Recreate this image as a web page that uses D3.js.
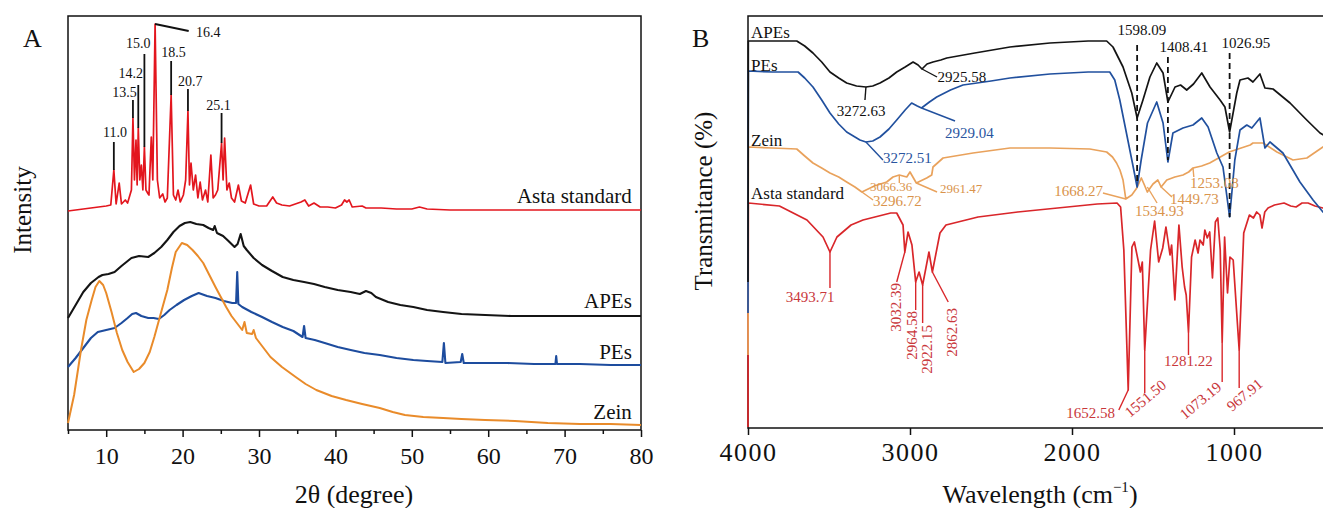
<!DOCTYPE html>
<html>
<head>
<meta charset="utf-8">
<script src="https://cdn.jsdelivr.net/npm/d3@7"></script>
<style>
body { margin: 0; background: #fff; }
svg text { font-family: "Liberation Serif", "Times New Roman", serif; fill: #111; }
</style>
</head>
<body>
<svg id="chart" width="1323" height="508"></svg>
<script>
// ---------- panel A : XRD, [2theta, intensity (a.u., stacked)] ----------
var xrdTicks = [10, 20, 30, 40, 50, 60, 70, 80];
var xrdMinorTicks = [5, 15, 25, 35, 45, 55, 65, 75];

var astaXrd = [[5,219],[6,220],[7,221],[8,222],[9,223],[10,224],[10.6,225],[11.0,260],[11.3,226],[11.7,247],[12.0,226],[12.5,230],[12.8,227],[13.3,240],[13.5,312],[13.7,250],[13.9,290],[14.05,245],[14.2,302],[14.4,250],[14.6,265],[14.8,240],[15.0,283],[15.2,240],[15.5,236],[15.6,235],[15.9,293],[16.1,250],[16.4,406],[16.7,250],[17.0,232],[17.4,236],[17.7,228],[18.0,232],[18.5,335],[18.8,235],[19.1,230],[19.4,240],[19.7,228],[20.1,235],[20.4,250],[20.7,319],[20.9,245],[21.1,267],[21.4,240],[21.7,255],[22.0,232],[22.3,248],[22.6,230],[23.0,240],[23.3,228],[23.7,275],[24.0,232],[24.3,235],[24.6,240],[25.1,287],[25.3,250],[25.5,292],[25.8,240],[26.1,247],[26.4,232],[26.8,228],[27.3,245],[27.7,229],[28.2,227],[28.9,245],[29.3,226],[30,224],[31,224],[31.8,233],[32.3,227],[33,225],[34,224],[35.5,228],[36,230],[36.5,224],[37.2,227],[38,223],[39,223],[40,222],[40.8,225],[41.2,230],[41.5,228],[41.8,230],[42.2,223],[43.5,224],[44,222],[46,222],[48,221],[50,221],[51,223],[52,221],[55,220],[60,220],[65,220],[70,220],[75,220],[80,220]];

var apesXrd = [[5,112],[6,125],[7,138],[8,147],[9,153],[9.5,155],[10.3,156],[11.1,158],[12,164],[13.3,172],[14.3,174],[15.5,173],[16.3,177],[17.2,183],[18,190],[18.8,198],[19.6,204],[20.3,207],[21,208],[21.8,206],[22.7,205],[23.4,202],[24.0,200],[24.2,204],[24.5,197],[25.3,194],[26,189],[26.8,183],[27.2,186],[27.6,196],[28.0,184],[28.4,180],[29.3,172],[30.4,165],[31.7,159],[33.1,153],[34.5,150],[35.9,148],[37.2,146],[38.6,143],[40.3,140],[42,138],[43.2,136],[44,139],[44.7,137],[45.3,133],[46.9,128],[48.5,125],[50.2,123],[52,120],[54.1,118],[56.5,116],[59.6,115],[63,114],[67.8,114],[72,114],[76,114],[80,114]];

var pesXrd = [[5,63],[6,72],[7,82],[8,92],[8.9,98],[10,100],[11.1,102],[12,107],[12.8,112],[13.4,116],[13.9,117],[14.6,114],[15.5,112],[16.2,112],[16.9,111],[17.6,115],[18.3,120],[19.2,125],[20.2,130],[21.2,134],[22.1,137],[23.2,134],[24.3,132],[25.4,129],[26.5,127],[27.0,127],[27.15,158],[27.3,126],[27.8,123],[29,118],[30.4,113],[31.7,108],[33.1,103],[34.5,99],[35.7,93],[35.9,104],[36.1,92],[37.3,90],[38.6,87],[40.3,83],[42,80],[43.8,77],[45.8,75],[48,72],[50.2,70],[52,69],[54.0,68],[54.2,87],[54.4,67],[56.4,68],[56.6,76],[56.8,67],[59,67],[62.5,67],[66,66],[68.8,66],[68.9,74],[69.0,66],[72,66],[76,65],[80,65]];

var zeinXrd = [[5,7],[5.8,35],[6.7,80],[7.4,110],[8.1,130],[8.6,143],[9.1,149],[9.6,145],[10.0,137],[10.7,118],[11.4,97],[12.1,80],[12.8,68],[13.6,58],[14.3,61],[15.0,67],[15.7,78],[16.3,93],[17.2,118],[18.0,140],[18.6,162],[19.1,178],[19.9,187],[20.6,185],[21.3,180],[22.0,174],[22.7,167],[23.5,155],[24.3,143],[25.0,133],[25.7,123],[26.4,114],[27.1,107],[27.8,100],[28.1,108],[28.4,97],[29.1,96],[29.3,100],[29.6,92],[30.5,83],[31.5,73],[33.0,63],[34.8,53],[36.1,46],[37.5,40],[39.5,34],[41.4,30],[43.5,26],[45.8,22],[47.5,18],[49.1,15],[51.5,13],[54.1,12],[56.5,11],[59.6,10],[63.5,9],[67.8,7],[72,6],[76,6],[80,5]];

var xrdPeakLabels = ["11.0", "13.5", "14.2", "15.0", "16.4", "18.5", "20.7", "25.1"];
var xrdPeakPos = [11.0, 13.5, 14.2, 15.0, 16.4, 18.5, 20.7, 25.1];
var xrdPeakHeight = [260, 312, 302, 283, 406, 335, 319, 287];

// ---------- panel B : FTIR, [wavenumber, transmittance (a.u., stacked)] ----------
var ftirTicks = [4000, 3000, 2000, 1000];

var apesFtir = [[4000,146],[3998,387],[3850,387],[3699,387],[3650,382],[3599,375],[3545,366],[3494,356],[3440,350],[3391,345],[3330,342],[3272,341],[3230,342],[3185,345],[3130,350],[3082,356],[3030,361],[2981,366],[2950,363],[2926,359],[2895,364],[2858,366],[2810,368],[2773,370],[2600,375],[2383,381],[2136,385],[1900,387],[1786,387],[1747,381],[1685,361],[1631,335],[1598,310],[1562,328],[1519,351],[1477,365],[1438,355],[1408,326],[1364,341],[1330,343],[1292,338],[1250,344],[1199,355],[1148,341],[1086,328],[1056,321],[1027,296],[983,335],[963,348],[914,350],[883,346],[840,354],[809,340],[759,339],[654,325],[551,308],[469,295],[400,288]];

var pesFtir = [[4000,115],[3998,357],[3850,356],[3691,356],[3650,350],[3599,341],[3545,328],[3494,315],[3440,304],[3391,296],[3309,288],[3272,286],[3230,287],[3185,291],[3130,299],[3082,308],[3030,318],[2990,325],[2955,322],[2929,320],[2880,326],[2835,331],[2750,338],[2673,343],[2500,347],[2383,350],[2136,354],[1900,356],[1767,356],[1736,348],[1705,328],[1664,295],[1627,265],[1598,241],[1573,268],[1534,305],[1477,326],[1438,305],[1408,266],[1377,295],[1315,300],[1253,303],[1199,310],[1160,301],[1106,275],[1068,261],[1027,211],[995,268],[963,298],[921,303],[890,300],[840,310],[809,280],[778,286],[698,275],[593,246],[512,228],[451,216],[400,208]];

var zeinFtir = [[4000,73],[3998,281],[3850,280],[3699,279],[3650,272],[3599,265],[3545,260],[3494,255],[3440,251],[3391,246],[3340,241],[3297,236],[3220,242],[3144,246],[3105,251],[3066,253],[3020,251],[3000,256],[2961,245],[2897,250],[2866,253],[2858,261],[2796,270],[2611,275],[2383,280],[2136,280],[1890,279],[1786,276],[1750,271],[1725,265],[1704,258],[1685,248],[1668,229],[1631,233],[1600,240],[1572,250],[1553,243],[1535,236],[1500,244],[1470,248],[1450,241],[1415,248],[1365,251],[1315,253],[1280,256],[1253,260],[1200,262],[1150,265],[1030,276],[900,283],[883,285],[821,285],[735,276],[636,268],[550,270],[451,281],[400,285]];

var astaFtir = [[4000,1],[3998,225],[3806,222],[3636,208],[3537,191],[3494,176],[3451,191],[3364,203],[3290,208],[3119,215],[3082,215],[3043,203],[3032,176],[3012,196],[2988,183],[2965,146],[2944,156],[2922,143],[2883,176],[2862,156],[2815,195],[2778,203],[2580,211],[2335,216],[2089,220],[1844,224],[1722,225],[1700,221],[1680,178],[1653,38],[1630,181],[1615,186],[1590,166],[1578,156],[1566,166],[1551,78],[1515,178],[1490,207],[1465,166],[1440,180],[1420,201],[1395,173],[1385,183],[1365,128],[1340,203],[1320,161],[1305,141],[1295,133],[1281,96],[1262,171],[1240,188],[1222,175],[1210,188],[1190,183],[1180,198],[1165,190],[1150,196],[1133,150],[1115,206],[1100,210],[1085,178],[1073,86],[1058,191],[1040,135],[1025,171],[1005,168],[968,78],[940,195],[905,213],[880,210],[860,216],[840,213],[827,200],[810,216],[790,220],[750,223],[691,225],[650,222],[617,221],[580,225],[543,225],[500,222],[451,220],[400,218]];

var colA = { asta: "#e3161e", apes: "#141414", pes: "#1d4c9e", zein: "#e98b2a" };
var colB = { asta: "#d9262a", apes: "#141414", pes: "#21509e", zein: "#e9a25c" };
var txtB = { asta: "#c9373b", apes: "#111", pes: "#2a55a0", zein: "#d9934b" };
var serif = '"Liberation Serif", "Times New Roman", serif';

var svg = d3.select("#chart");

// ================= panel A =================
var xA = d3.scaleLinear().domain([5, 80]).range([68, 641]);
var yA = d3.scaleLinear().domain([0, 414]).range([430, 16]);
var lineA = d3.line().x(function (d) { return xA(d[0]); }).y(function (d) { return yA(d[1]); });

var gA = svg.append("g");

gA.append("rect")
    .attr("x", xA(5)).attr("y", yA(414))
    .attr("width", xA(80) - xA(5)).attr("height", yA(0) - yA(414))
    .attr("fill", "none").attr("stroke", "#111").attr("stroke-width", 1.5);

var axA = gA.append("g")
    .attr("transform", "translate(0," + yA(0) + ")")
    .call(d3.axisBottom(xA).tickValues(xrdTicks).tickSize(7).tickSizeOuter(0).tickPadding(10).tickFormat(d3.format("d")));
axA.select(".domain").remove();
axA.selectAll("line").attr("stroke", "#111").attr("stroke-width", 1.5);
axA.selectAll("text").style("font-size", "24px");

var axAm = gA.append("g")
    .attr("transform", "translate(0," + yA(0) + ")")
    .call(d3.axisBottom(xA).tickValues(xrdMinorTicks).tickSize(4).tickSizeOuter(0).tickFormat(""));
axAm.select(".domain").remove();
axAm.selectAll("line").attr("stroke", "#111").attr("stroke-width", 1.5);

var seriesA = [
    { data: astaXrd, color: colA.asta, w: 1.7 },
    { data: apesXrd, color: colA.apes, w: 2.1 },
    { data: pesXrd, color: colA.pes, w: 2.1 },
    { data: zeinXrd, color: colA.zein, w: 2 }
];
gA.selectAll(".xrd")
    .data(seriesA)
    .enter().append("path")
    .attr("class", "xrd")
    .attr("d", function (d) { return lineA(d.data); })
    .attr("fill", "none")
    .attr("stroke", function (d) { return d.color; })
    .attr("stroke-width", function (d) { return d.w; })
    .attr("stroke-linejoin", "round");

/* peak label layout: line end and text spot, in data units */
var peakLayout = [
    { lx: 11.0, ly: 288, tx: 11.15, ty: 293 },
    { lx: 13.5, ly: 330, tx: 12.4, ty: 333 },
    { lx: 14.2, ly: 345, tx: 13.2, ty: 352 },
    { lx: 15.0, ly: 376, tx: 14.2, ty: 382 },
    { lx: 20.8, ly: 399, tx: 21.75, ty: 393, start: true },
    { lx: 18.5, ly: 369, tx: 18.8, ty: 373 },
    { lx: 20.7, ly: 341, tx: 21.0, ty: 344 },
    { lx: 25.1, ly: 317, tx: 24.7, ty: 320 }
];
xrdPeakLabels.forEach(function (lab, i) {
    var p = peakLayout[i];
    gA.append("line")
        .attr("x1", xA(xrdPeakPos[i])).attr("y1", yA(xrdPeakHeight[i]))
        .attr("x2", xA(p.lx)).attr("y2", yA(p.ly))
        .attr("stroke", "#111").attr("stroke-width", 1.8);
    gA.append("text")
        .attr("x", xA(p.tx)).attr("y", yA(p.ty))
        .attr("text-anchor", p.start ? "start" : "middle")
        .style("font-size", "14px")
        .text(lab);
});

var namesA = [
    { t: "Asta standard", y: 227 },
    { t: "APEs", y: 122 },
    { t: "PEs", y: 71 },
    { t: "Zein", y: 11 }
];
gA.selectAll(".nameA")
    .data(namesA)
    .enter().append("text")
    .attr("x", xA(78.8)).attr("y", function (d) { return yA(d.y); })
    .attr("text-anchor", "end")
    .style("font-size", "21px")
    .text(function (d) { return d.t; });

svg.append("text").attr("x", 23).attr("y", 47).style("font-size", "26px").text("A");
svg.append("text").attr("transform", "translate(31,210) rotate(-90)")
    .attr("text-anchor", "middle").style("font-size", "25px").text("Intensity");
svg.append("text").attr("x", 354).attr("y", 503)
    .attr("text-anchor", "middle").style("font-size", "26px").text("2θ (degree)");

// ================= panel B =================
var xB = d3.scaleLinear().domain([4000, 400]).range([748, 1331.2]);
var yB = d3.scaleLinear().domain([0, 412]).range([428, 16]);
var lineB = d3.line().x(function (d) { return xB(d[0]); }).y(function (d) { return yB(d[1]); });

var gB = svg.append("g");

gB.append("rect")
    .attr("x", xB(4000)).attr("y", yB(412))
    .attr("width", xB(400) - xB(4000)).attr("height", yB(0) - yB(412))
    .attr("fill", "none").attr("stroke", "#111").attr("stroke-width", 1.5);

var axB = gB.append("g")
    .attr("transform", "translate(0," + yB(0) + ")")
    .call(d3.axisBottom(xB).tickValues(ftirTicks).tickSize(7).tickSizeOuter(0).tickPadding(8).tickFormat(d3.format("d")));
axB.select(".domain").remove();
axB.selectAll("line").attr("stroke", "#111").attr("stroke-width", 1.5);
axB.selectAll("text").style("font-size", "26px").style("letter-spacing", "1.5px");

var seriesB = [
    { data: astaFtir, color: colB.asta },
    { data: zeinFtir, color: colB.zein },
    { data: pesFtir, color: colB.pes },
    { data: apesFtir, color: colB.apes }
];
gB.selectAll(".ftir")
    .data(seriesB)
    .enter().append("path")
    .attr("class", "ftir")
    .attr("d", function (d) { return lineB(d.data); })
    .attr("fill", "none")
    .attr("stroke", function (d) { return d.color; })
    .attr("stroke-width", 1.7)
    .attr("stroke-linejoin", "round");

/* band annotations: text, colour key, leader line and text spot, all in data units */
var bandNotes = [
    { t: "3272.63", c: "apes", l: [3272, 341, 3278, 328], p: [3302, 312], a: "middle" },
    { t: "2925.58", c: "apes", l: [2926, 359, 2833, 351], p: [2830, 346], a: "start" },
    { t: "1598.09", c: "apes", l: [1598, 383, 1598, 243], p: [1568, 393], a: "middle", dash: true },
    { t: "1408.41", c: "apes", l: [1408, 371, 1408, 268], p: [1309, 376], a: "middle", dash: true },
    { t: "1026.95", c: "apes", l: [1027, 375, 1027, 211], p: [926, 380], a: "middle", dash: true },
    { t: "2929.04", c: "pes", l: [2929, 320, 2722, 307], p: [2784, 290], a: "start" },
    { t: "3272.51", c: "pes", l: [3272, 286, 3167, 268], p: [3167, 265], a: "start" },
    { t: "3296.72", c: "zein", l: [3297, 236, 3228, 228], p: [3228, 222], a: "start" },
    { t: "3066.36", c: "zein", l: [3066, 253, 3066, 245], p: [3247, 237], a: "start", s: 13 },
    { t: "2961.47", c: "zein", l: [2961, 245, 2833, 236], p: [2815, 235], a: "start", s: 13 },
    { t: "1668.27", c: "zein", l: [1668, 229, 1809, 235], p: [1809, 232], a: "end" },
    { t: "1534.93", c: "zein", l: [1535, 241, 1475, 225], p: [1611, 212], a: "start" },
    { t: "1449.73", c: "zein", l: [1450, 241, 1383, 231], p: [1395, 224], a: "start" },
    { t: "1253.08", c: "zein", l: [1253, 260, 1248, 251], p: [1272, 240], a: "start" },
    { t: "3493.71", c: "asta", l: [3494, 176, 3494, 140], p: [3617, 126], a: "middle" },
    { t: "3032.39", c: "asta", l: [3032, 176, 3082, 146], p: [3056, 145], a: "end", r: -90 },
    { t: "2964.58", c: "asta", l: [2965, 146, 2965, 118], p: [2957, 117], a: "end", r: -90 },
    { t: "2922.15", c: "asta", l: [2922, 143, 2922, 105], p: [2864, 103], a: "end", r: -90 },
    { t: "2862.63", c: "asta", l: [2862, 156, 2764, 126], p: [2710, 120], a: "end", r: -90 },
    { t: "1652.58", c: "asta", l: [1653, 38, 1711, 18], p: [1735, 10], a: "end" },
    { t: "1551.50", c: "asta", l: [1551, 78, 1551, 35], p: [1642, 10], a: "start", r: -40 },
    { t: "1281.22", c: "asta", l: [1281, 96, 1281, 73], p: [1281, 62], a: "middle" },
    { t: "1073.19", c: "asta", l: [1073, 86, 1073, 46], p: [1302, 8], a: "start", r: -40 },
    { t: "967.91", c: "asta", l: [968, 78, 968, 40], p: [1012, 16], a: "start", r: -40 }
];
bandNotes.forEach(function (n) {
    gB.append("line")
        .attr("x1", xB(n.l[0])).attr("y1", yB(n.l[1]))
        .attr("x2", xB(n.l[2])).attr("y2", yB(n.l[3]))
        .attr("stroke", n.dash ? "#111" : colB[n.c])
        .attr("stroke-width", n.dash ? 1.8 : 1.4)
        .attr("stroke-dasharray", n.dash ? "6,4" : null);
    gB.append("text")
        .attr("transform", "translate(" + xB(n.p[0]) + "," + yB(n.p[1]) + ")" + (n.r ? " rotate(" + n.r + ")" : ""))
        .attr("text-anchor", n.a)
        .style("font-size", (n.s || 15) + "px")
        .style("fill", txtB[n.c])
        .text(n.t);
});

var namesB = [
    { t: "APEs", y: 390 },
    { t: "PEs", y: 357 },
    { t: "Zein", y: 282 },
    { t: "Asta standard", y: 229 }
];
gB.selectAll(".nameB")
    .data(namesB)
    .enter().append("text")
    .attr("x", xB(3981)).attr("y", function (d) { return yB(d.y); })
    .style("font-size", "17px")
    .text(function (d) { return d.t; });

svg.append("text").attr("x", 692).attr("y", 47).style("font-size", "26px").text("B");
svg.append("text").attr("transform", "translate(712,201) rotate(-90)")
    .attr("text-anchor", "middle").style("font-size", "25px").text("Transmitance (%)");
var xt = svg.append("text").attr("x", 1040).attr("y", 503)
    .attr("text-anchor", "middle").style("font-size", "26px");
xt.append("tspan").text("Wavelength (cm");
xt.append("tspan").attr("dy", -11).style("font-size", "15px").text("−1");
xt.append("tspan").attr("dy", 11).text(")");

// one serif face everywhere, axis texts included
svg.selectAll("text").style("font-family", serif);
</script>
</body>
</html>
